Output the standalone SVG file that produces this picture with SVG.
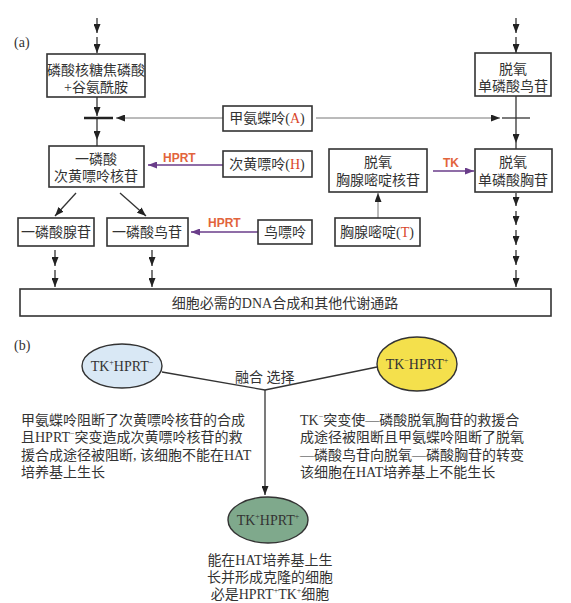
<svg xmlns="http://www.w3.org/2000/svg" width="571" height="603" viewBox="0 0 571 603">
<defs>
<marker id="ah" markerUnits="userSpaceOnUse" markerWidth="8" markerHeight="8" refX="3" refY="7" orient="auto-start-reverse" viewBox="0 0 6 8">
<path d="M0,0 L6,0 L3,8 z" fill="#222"/>
</marker>
<marker id="ar" markerUnits="userSpaceOnUse" markerWidth="9" markerHeight="7" refX="9" refY="3.5" orient="auto" viewBox="0 0 9 7">
<path d="M0,0 L9,3.5 L0,7 z" fill="#222"/>
</marker>
<marker id="ap" markerUnits="userSpaceOnUse" markerWidth="9" markerHeight="7" refX="9" refY="3.5" orient="auto" viewBox="0 0 9 7">
<path d="M0,0 L9,3.5 L0,7 z" fill="#6a3d8a"/>
</marker>
</defs>
<style>
.bx{fill:#fff;stroke:#333;stroke-width:1.6}
.t{font-family:"Liberation Serif","Noto Sans CJK SC",serif;font-size:14px;fill:#333}
.c{text-anchor:middle}
.r{fill:#d9452b}
.lbl{font-family:"Liberation Sans","Noto Sans CJK SC",sans-serif;font-size:12px;font-weight:bold;fill:#e2643c}
.ln{stroke:#333;stroke-width:1.3;fill:none}
.dl{stroke:#333;stroke-width:1.3;fill:none;marker-end:url(#ar)}
.gr{stroke:#777;stroke-width:1;fill:none}
.pp{stroke:#6a3d8a;stroke-width:1.3;fill:none;marker-end:url(#ap)}
</style>
<rect width="571" height="603" fill="#fff"/>
<text class="t" x="14" y="47">(a)</text>
<text class="t" x="14" y="350">(b)</text>

<g id="connectors">
<!-- left column top dashed arrows -->
<line class="dl" x1="97" y1="18" x2="97" y2="33"/>
<line class="dl" x1="97" y1="37" x2="97" y2="53"/>
<!-- right column top -->
<line class="dl" x1="516" y1="18" x2="516" y2="33"/>
<line class="dl" x1="516" y1="37" x2="516" y2="53"/>
<!-- left block -->
<line class="dl" x1="97" y1="97" x2="97" y2="116"/>
<line stroke="#222" stroke-width="2.5" x1="84" y1="118" x2="113" y2="118"/>
<line class="dl" x1="97" y1="119" x2="97" y2="140"/>
<line class="ln" x1="97" y1="140" x2="97" y2="146"/>
<line class="gr" x1="223" y1="118" x2="116" y2="118" marker-end="url(#ar)"/>
<!-- right block -->
<line class="gr" x1="316" y1="118" x2="500" y2="118" marker-end="url(#ar)"/>
<line stroke="#333" stroke-width="1.3" x1="502" y1="118" x2="530" y2="118"/>
<line class="dl" x1="516" y1="96" x2="516" y2="143"/>
<line class="ln" x1="516" y1="143" x2="516" y2="149"/>
<!-- HPRT arrows -->
<line class="pp" x1="223" y1="165" x2="148" y2="165"/>
<line class="pp" x1="258" y1="232" x2="191" y2="232"/>
<line class="pp" x1="433" y1="171" x2="474" y2="171"/>
<!-- thymidine up -->
<line class="gr" x1="378" y1="218" x2="378" y2="193" marker-end="url(#ar)"/>
<!-- diagonals -->
<line class="dl" x1="76" y1="193" x2="55" y2="216"/>
<line class="dl" x1="120" y1="193" x2="146" y2="216"/>
<!-- dashed to bottom -->
<line class="dl" x1="55" y1="250" x2="55" y2="266"/>
<line class="dl" x1="55" y1="270" x2="55" y2="287"/>
<line class="dl" x1="152" y1="250" x2="152" y2="266"/>
<line class="dl" x1="152" y1="270" x2="152" y2="287"/>
<line class="dl" x1="516" y1="193" x2="516" y2="206"/>
<line class="dl" x1="516" y1="211" x2="516" y2="225"/>
<line class="dl" x1="516" y1="230" x2="516" y2="245"/>
<line class="dl" x1="516" y1="250" x2="516" y2="265"/>
<line class="dl" x1="516" y1="270" x2="516" y2="287"/>
<!-- part b -->
<polyline class="ln" points="162,372 265,390 377,367" stroke-width="1.1"/>
<line class="dl" x1="265" y1="390" x2="265" y2="495"/>
</g>

<g id="n1"><rect class="bx" x="47" y="54" width="98" height="43"/>
<text class="t c" x="96" y="75">磷酸核糖焦磷酸</text><text class="t c" x="96" y="92">+谷氨酰胺</text></g>
<g id="n2"><rect class="bx" x="475" y="53" width="76" height="43"/>
<text class="t c" x="513" y="74">脱氧</text><text class="t c" x="513" y="91">单磷酸鸟苷</text></g>
<g id="nA"><rect class="bx" x="223" y="106" width="89" height="25"/>
<text class="t c" x="267" y="123">甲氨蝶呤(<tspan class="r">A</tspan>)</text></g>
<g id="n3"><rect class="bx" x="49" y="146" width="95" height="41"/>
<text class="t c" x="96" y="164">一磷酸</text><text class="t c" x="96" y="181">次黄嘌呤核苷</text></g>
<text class="lbl" x="163" y="162">HPRT</text>
<g id="nH"><rect class="bx" x="223" y="151" width="89" height="26"/>
<text class="t c" x="267" y="169">次黄嘌呤(<tspan class="r">H</tspan>)</text></g>
<g id="n4"><rect class="bx" x="329" y="149" width="98" height="43"/>
<text class="t c" x="378" y="167">脱氧</text><text class="t c" x="378" y="185">胸腺嘧啶核苷</text></g>
<text class="lbl" x="443" y="167">TK</text>
<g id="n5"><rect class="bx" x="475" y="149" width="77" height="43"/>
<text class="t c" x="513" y="167">脱氧</text><text class="t c" x="513" y="185">单磷酸胸苷</text></g>
<g id="n6"><rect class="bx" x="18" y="218" width="76" height="28"/>
<text class="t c" x="56" y="237">一磷酸腺苷</text></g>
<g id="n7"><rect class="bx" x="107" y="218" width="81" height="28"/>
<text class="t c" x="147" y="237">一磷酸鸟苷</text></g>
<text class="lbl" x="208" y="227">HPRT</text>
<g id="n8"><rect class="bx" x="258" y="220" width="54" height="24"/>
<text class="t c" x="285" y="237">鸟嘌呤</text></g>
<g id="nT"><rect class="bx" x="335" y="218" width="85" height="28"/>
<text class="t c" x="377" y="237">胸腺嘧啶(<tspan class="r">T</tspan>)</text></g>
<g id="n9"><rect class="bx" x="20" y="289" width="531" height="27"/>
<text class="t c" x="285" y="308">细胞必需的DNA合成和其他代谢通路</text></g>

<g id="e1"><ellipse cx="122" cy="366" rx="40" ry="22" fill="#d9e8f5" stroke="#333" stroke-width="1.4"/>
<text class="t c" x="122" y="371">TK<tspan font-size="8" dy="-6">+</tspan><tspan dy="6">HPRT</tspan><tspan font-size="8" dy="-6">−</tspan></text></g>
<g id="e2"><ellipse cx="417" cy="364" rx="40" ry="27" fill="#f4e04c" stroke="#333" stroke-width="1.4"/>
<text class="t c" x="417" y="369">TK<tspan font-size="8" dy="-6">−</tspan><tspan dy="6">HPRT</tspan><tspan font-size="8" dy="-6">+</tspan></text></g>
<text class="t" x="235" y="382">融合  选择</text>
<g id="e3"><ellipse cx="268" cy="520" rx="40" ry="23" fill="#7fa98c" stroke="#333" stroke-width="1.4"/>
<text class="t c" x="268" y="525">TK<tspan font-size="8" dy="-6">+</tspan><tspan dy="6">HPRT</tspan><tspan font-size="8" dy="-6">+</tspan></text></g>

<g id="txtL">
<text class="t" x="21" y="425">甲氨蝶呤阻断了次黄嘌呤核苷的合成</text>
<text class="t" x="21" y="442">且HPRT<tspan font-size="8" dy="-6">−</tspan><tspan dy="6">突变造成次黄嘌呤核苷的救</tspan></text>
<text class="t" x="21" y="460">援合成途径被阻断, 该细胞不能在HAT</text>
<text class="t" x="21" y="477">培养基上生长</text>
</g>
<g id="txtR">
<text class="t" x="300" y="425">TK<tspan font-size="8" dy="-6">−</tspan><tspan dy="6">突变使—磷酸脱氧胸苷的救援合</tspan></text>
<text class="t" x="300" y="442">成途径被阻断且甲氨蝶呤阻断了脱氧</text>
<text class="t" x="300" y="460">—磷酸鸟苷向脱氧—磷酸胸苷的转变</text>
<text class="t" x="300" y="477">该细胞在HAT培养基上不能生长</text>
</g>
<g id="txtB">
<text class="t c" x="270" y="565">能在HAT培养基上生</text>
<text class="t c" x="270" y="582">长并形成克隆的细胞</text>
<text class="t c" x="270" y="599">必是HPRT<tspan font-size="8" dy="-6">+</tspan><tspan dy="6">TK</tspan><tspan font-size="8" dy="-6">+</tspan><tspan dy="6">细胞</tspan></text>
</g>
</svg>
